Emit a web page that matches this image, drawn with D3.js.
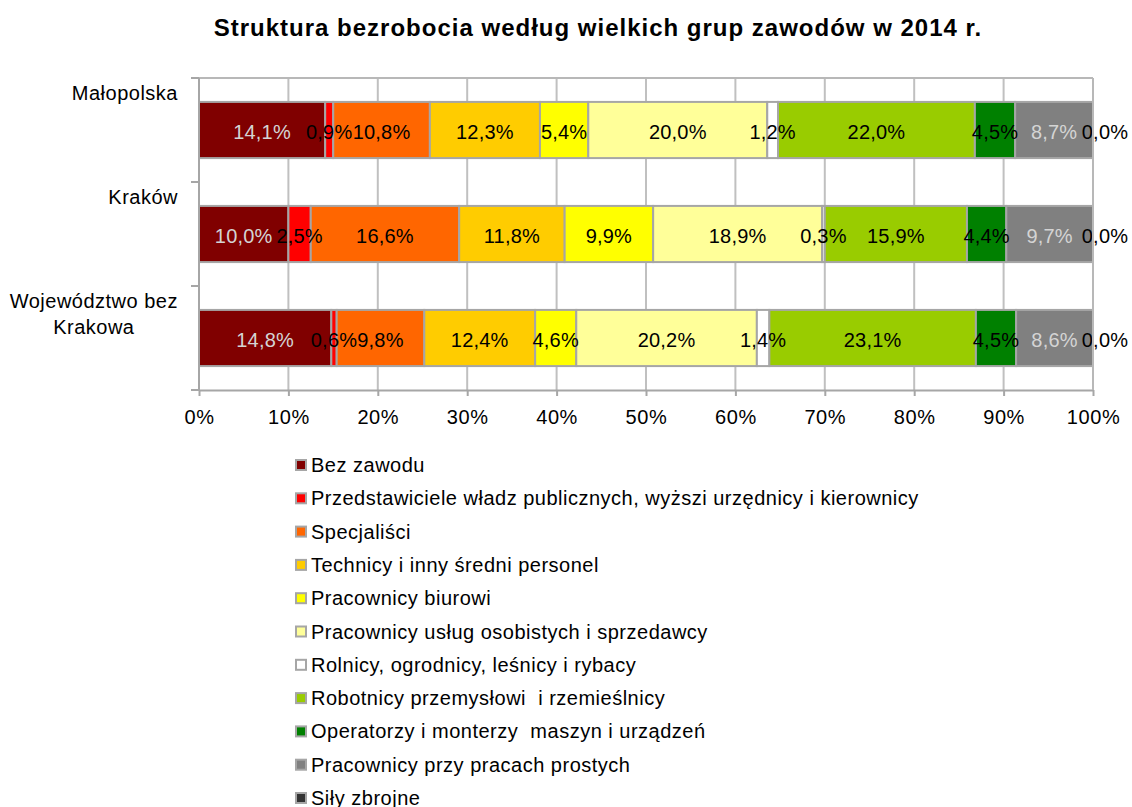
<!DOCTYPE html>
<html>
<head>
<meta charset="utf-8">
<script src="https://cdn.jsdelivr.net/npm/d3@7"></script>
<style>
  body { margin: 0; background: #fff; }
  text { font-family: "Liberation Sans", Arial, sans-serif; }
</style>
</head>
<body>
<div id="chart"></div>
<script>
// categories (top to bottom)
const regions = ["Małopolska", "Kraków", "Województwo bez Krakowa"];

// occupation groups
const groups = [
  "Bez zawodu",
  "Przedstawiciele władz publicznych, wyższi urzędnicy i kierownicy",
  "Specjaliści",
  "Technicy i inny średni personel",
  "Pracownicy biurowi",
  "Pracownicy usług osobistych i sprzedawcy",
  "Rolnicy, ogrodnicy, leśnicy i rybacy",
  "Robotnicy przemysłowi  i rzemieślnicy",
  "Operatorzy i monterzy  maszyn i urządzeń",
  "Pracownicy przy pracach prostych",
  "Siły zbrojne"
];

const colors = ["#800000", "#ff0000", "#ff6600", "#ffcc00", "#ffff00", "#ffff99",
                "#ffffff", "#99cc00", "#008000", "#808080", "#333333"];

// shares in %, one array per region
const malopolska = [14.1, 0.9, 10.8, 12.3, 5.4, 20.0, 1.2, 22.0, 4.5, 8.7, 0.0];
const krakow     = [10.0, 2.5, 16.6, 11.8, 9.9, 18.9, 0.3, 15.9, 4.4, 9.7, 0.0];
const wojBezKrk  = [14.8, 0.6, 9.8, 12.4, 4.6, 20.2, 1.4, 23.1, 4.5, 8.6, 0.0];

const xTicks = [0, 0.1, 0.2, 0.3, 0.4, 0.5, 0.6, 0.7, 0.8, 0.9, 1.0];

const W = 1132, H = 807;
const plot = {left: 199, right: 1093, top: 78, bottom: 390};

const svg = d3.select("#chart").append("svg")
    .attr("width", W)
    .attr("height", H);

// title
svg.append("text")
    .attr("x", 598)
    .attr("y", 36)
    .attr("text-anchor", "middle")
    .style("font-size", "24px")
    .style("font-weight", "bold")
    .style("letter-spacing", "1px")
    .text("Struktura bezrobocia według wielkich grup zawodów w 2014 r.");

// build table for stack
const seriesByRegion = [malopolska, krakow, wojBezKrk];
const table = regions.map((r, i) => {
  const row = {region: r};
  groups.forEach((g, j) => row[g] = seriesByRegion[i][j]);
  return row;
});

const stacked = d3.stack()
    .keys(groups)
    .offset(d3.stackOffsetExpand)(table);

const x = d3.scaleLinear().domain([0, 1]).range([plot.left, plot.right]);
const y = d3.scaleBand().domain(regions).range([plot.top, plot.bottom]);
const color = d3.scaleOrdinal().domain(groups).range(colors);

const barH = y.bandwidth() * 0.54;
const barOff = (y.bandwidth() - barH) / 2;

// gridlines
svg.append("g")
    .selectAll("line")
    .data(xTicks.slice(1))
    .join("line")
    .attr("x1", d => x(d)).attr("x2", d => x(d))
    .attr("y1", plot.top).attr("y2", plot.bottom)
    .attr("stroke", "#c0c0c0")
    .attr("stroke-width", 2);

// top border
svg.append("line")
    .attr("x1", plot.left).attr("x2", plot.right)
    .attr("y1", plot.top).attr("y2", plot.top)
    .attr("stroke", "#b8b8b8")
    .attr("stroke-width", 2);

// bars
const layers = svg.append("g")
    .selectAll("g")
    .data(stacked)
    .join("g")
    .attr("fill", d => color(d.key));

layers.selectAll("rect")
    .data(d => d)
    .join("rect")
    .attr("x", d => x(d[0]))
    .attr("y", d => y(d.data.region) + barOff)
    .attr("width", d => x(d[1]) - x(d[0]))
    .attr("height", barH)
    .attr("stroke", "#a6a6a6")
    .attr("stroke-width", 2);

// value labels
const lightText = ["Bez zawodu", "Pracownicy przy pracach prostych"];
stacked.forEach(s => {
  svg.append("g")
    .selectAll("text")
    .data(s)
    .join("text")
    // empty segments get their label nudged right, as Excel does
    .attr("x", d => x((d[0] + d[1]) / 2) + (d[1] - d[0] === 0 ? 12 : 0))
    .attr("y", d => y(d.data.region) + y.bandwidth() / 2 + 9)
    .attr("text-anchor", "middle")
    .attr("fill", lightText.includes(s.key) ? "#d4d4d4" : "#000")
    .style("font-size", "20px")
    .style("letter-spacing", "0.2px")
    .text(d => d3.format(".1f")(d.data[s.key]).replace(".", ",") + "%");
});

// x axis
const xAxis = d3.axisBottom(x)
    .tickValues(xTicks)
    .tickFormat(d => Math.round(d * 100) + "%")
    .tickSize(6)
    .tickSizeOuter(0);
const gx = svg.append("g")
    .attr("transform", `translate(0,${plot.bottom})`)
    .call(xAxis);
gx.select(".domain").attr("stroke", "#a6a6a6").attr("stroke-width", 2);
gx.selectAll(".tick line").attr("stroke", "#a6a6a6").attr("stroke-width", 2);
gx.selectAll(".tick text")
    .attr("dy", 0)
    .attr("y", 34)
    .attr("fill", "#000")
    .style("font-family", "Liberation Sans, Arial, sans-serif")
    .style("font-size", "20px")
    .style("letter-spacing", "0.6px");

// y axis line with ticks at band boundaries
svg.append("line")
    .attr("x1", plot.left).attr("x2", plot.left)
    .attr("y1", plot.top).attr("y2", plot.bottom)
    .attr("stroke", "#a6a6a6").attr("stroke-width", 2);
svg.append("g")
    .selectAll("line")
    .data(regions.map(r => y(r)).concat([plot.bottom]))
    .join("line")
    .attr("x1", plot.left - 8).attr("x2", plot.left)
    .attr("y1", d => d).attr("y2", d => d)
    .attr("stroke", "#a6a6a6").attr("stroke-width", 2);

// right border
svg.append("line")
    .attr("x1", plot.right).attr("x2", plot.right)
    .attr("y1", plot.top).attr("y2", plot.bottom)
    .attr("stroke", "#b8b8b8").attr("stroke-width", 2);

// category labels (wrapped, block right-aligned, lines centred)
const catLines = {
  "Małopolska": ["Małopolska"],
  "Kraków": ["Kraków"],
  "Województwo bez Krakowa": ["Województwo bez", "Krakowa"]
};
const labelRight = 178;
regions.forEach(r => {
  const lines = catLines[r];
  const texts = lines.map((ln, i) => svg.append("text")
      .attr("text-anchor", "middle")
      .attr("y", y(r) + 22 + i * 26)
      .style("font-size", "20px")
      .style("letter-spacing", "0.5px")
      .attr("fill", "#000")
      .text(ln));
  const maxW = d3.max(texts, t => t.node().getComputedTextLength());
  texts.forEach(t => t.attr("x", labelRight - maxW / 2));
});

// legend
const legend = svg.append("g")
    .selectAll("g")
    .data(groups)
    .join("g")
    .attr("transform", (d, i) => `translate(295,${465 + i * 33.3})`);

legend.append("rect")
    .attr("x", 1).attr("y", -5)
    .attr("width", 10).attr("height", 10)
    .attr("fill", d => color(d))
    .attr("stroke", "#a6a6a6")
    .attr("stroke-width", 2);

legend.append("text")
    .attr("x", 16)
    .attr("y", 7)
    .style("font-size", "20px")
    .style("letter-spacing", "0.5px")
    .style("white-space", "pre")
    .attr("fill", "#000")
    .text(d => d);
</script>
</body>
</html>
